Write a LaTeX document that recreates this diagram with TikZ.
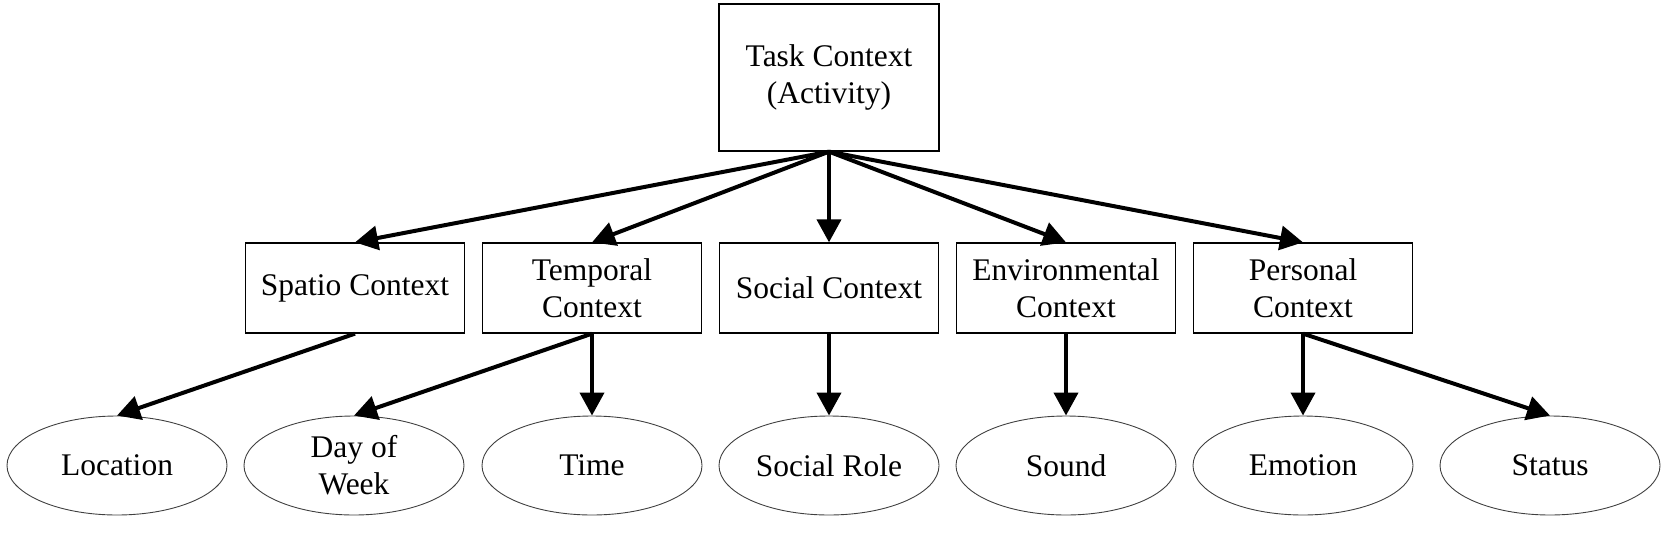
\documentclass[tikz,border=0pt]{standalone}
\usepackage{fontspec}
\setmainfont{Liberation Serif}
\usetikzlibrary{arrows.meta,shapes.geometric}
\begin{document}
\begin{tikzpicture}[x=1pt,y=-1pt,
  every node/.style={font=\fontsize{31.5}{37}\selectfont, align=center, inner sep=0pt},
  ctxbox/.style={draw=black, line width=1.3pt, minimum width=219pt, minimum height=90pt},
  leaf/.style={draw=black!75, line width=0.9pt, ellipse, minimum width=220pt, minimum height=99pt},
  arr/.style={line width=4pt, -{Triangle[length=23pt,width=24pt]}}]
\useasboundingbox (0,0) rectangle (1667,551);
\node[draw=black, line width=1.3pt, minimum width=220pt, minimum height=147pt] (task) at (829,77.5) {Task Context\\(Activity)};
\node[ctxbox] (spatio) at (355,288) {Spatio Context};
\node[ctxbox] (temporal) at (592,288) {Temporal\\Context};
\node[ctxbox] (social) at (829,288) {Social Context};
\node[ctxbox] (env) at (1066,288) {Environmental\\Context};
\node[ctxbox] (personal) at (1303,288) {Personal\\Context};
\node[leaf] (location) at (117,465.5) {Location};
\node[leaf] (day) at (354,465.5) {Day of\\Week};
\node[leaf] (time) at (592,465.5) {Time};
\node[leaf] (role) at (829,465.5) {Social Role};
\node[leaf] (sound) at (1066,465.5) {Sound};
\node[leaf] (emotion) at (1303,465.5) {Emotion};
\node[leaf] (status) at (1550,465.5) {Status};
\foreach \t in {spatio,temporal,social,env,personal}
  \draw[arr] (task.south) -- (\t.north);
\draw[arr] (spatio.south) -- (location.north);
\draw[arr] (temporal.south) -- (day.north);
\draw[arr] (temporal.south) -- (time.north);
\draw[arr] (social.south) -- (role.north);
\draw[arr] (env.south) -- (sound.north);
\draw[arr] (personal.south) -- (emotion.north);
\draw[arr] (personal.south) -- (status.north);
\end{tikzpicture}
\end{document}
